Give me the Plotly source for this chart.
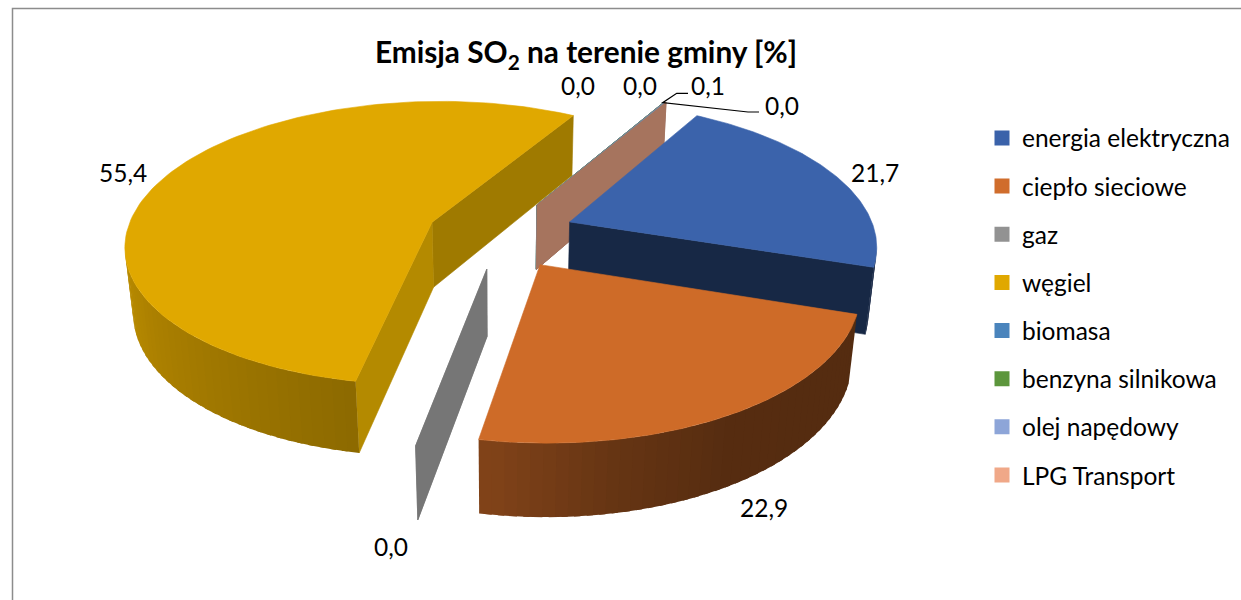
import numpy as np
import plotly.graph_objects as go

# ---------- data ----------
categories = ["energia elektryczna", "ciepło sieciowe", "gaz", "węgiel", "biomasa",
              "benzyna silnikowa", "olej napędowy", "LPG Transport"]
values = [21.7, 22.9, 0.0, 55.4, 0.0, 0.0, 0.1, 0.0]

# ---------- style ----------
legend_colors = ["#3A62AA", "#D06D2C", "#929292", "#E0A800", "#4A84BC", "#5C963C", "#8DA5D8", "#F0A888"]
top_colors = ["#3B63AB", "#CE6B28", "#929292", "#E0A800", "#4A84BC", "#5C963C", "#8DA5D8", "#F0A888"]
end_wall_colors = ["#172845", "#552C10", "#767676", "#9F7A00", "#4A7090", "#5C8050", "#7A8AA8", "#A6745E"]
start_wall_colors = ["#172845", "#7E4219", "#767676", "#B48A00", "#4A7090", "#5C8050", "#7A8AA8", "#A6745E"]
label_pos = [(875, 172), (764, 507), (391, 546), (123, 172), (578, 85), (640, 85), (708, 85), (782, 105)]
FONT = "Lato"

# projection of the exploded 3-D pie
FIRST_ANGLE = 30.2
EXPLODE = 0.243
CX, CY, RX, RY, DEPTH = 501, 234, 306, 142, 67
PERSP, PERSP_Z = 0.148, 0.022
SHADE_ANG = [100, 150, 170, 188, 230, 270, 300, 400]
SHADE_VAL = [0.41, 0.42, 0.50, 0.62, 0.75, 0.87, 0.90, 0.90]


def project(X, Y, Z=0.0):
    s = 1.0 / (1.0 - PERSP * Y + PERSP_Z * Z)
    return CX + RX * X * s, CY + (RY * Y + DEPTH * Z) * s


def direction(deg):
    a = np.radians(deg)
    return np.sin(a), -np.cos(a)


def shade(hex_color, f):
    r, g, b = (int(hex_color[i:i + 2], 16) for i in (1, 3, 5))
    return f"rgb({int(r * f)},{int(g * f)},{int(b * f)})"


def poly(points, color, edge=0.6):
    xs, ys = zip(*points)
    return go.Scatter(x=list(xs) + [xs[0]], y=list(ys) + [ys[0]], mode="lines", fill="toself",
                      fillcolor=color, line=dict(color=color, width=edge),
                      hoverinfo="skip", showlegend=False)


def wall(A, B, color, edge=0.6):
    return poly([project(*A), project(*B), project(*B, 1.0), project(*A, 1.0)], color, edge)


total = sum(values)
spans = [v / total * 360 for v in values]
starts = [FIRST_ANGLE + sum(spans[:i]) for i in range(len(values))]
CAM = (0.0, 1.0 / PERSP)

fig = go.Figure()


def draw_slice(i):
    a0, a1 = starts[i], starts[i] + spans[i]
    ex, ey = direction((a0 + a1) / 2)
    ax, ay = ex * EXPLODE, ey * EXPLODE
    d0, d1 = direction(a0), direction(a1)
    flat = spans[i] < 1.0
    t1 = (np.cos(np.radians(a1)), np.sin(np.radians(a1)))
    t0 = (-np.cos(np.radians(a0)), -np.sin(np.radians(a0)))
    to_cam = (CAM[0] - ax, CAM[1] - ay)
    if flat or t1[0] * to_cam[0] + t1[1] * to_cam[1] > 0:
        fig.add_trace(wall((ax, ay), (ax + d1[0], ay + d1[1]), end_wall_colors[i]))
    if flat or t0[0] * to_cam[0] + t0[1] * to_cam[1] > 0:
        fig.add_trace(wall((ax, ay), (ax + d0[0], ay + d0[1]), start_wall_colors[i]))
    if flat:
        return
    n = max(2, int(spans[i] / 2.0))
    grid = np.linspace(a0, a1, n + 1)
    step = grid[1] - grid[0]
    for g0, g1 in zip(grid[:-1], grid[1:]):
        m = (g0 + g1) / 2
        nx, ny = direction(m)
        px, py = ax + nx, ay + ny
        if nx * (CAM[0] - px) + ny * (CAM[1] - py) <= 0:
            continue
        # segments overlap so no seams show
        g_end = min(g1 + step * 0.5, a1)
        p0, p1 = direction(g0), direction(g_end)
        fig.add_trace(wall((ax + p0[0], ay + p0[1]), (ax + p1[0], ay + p1[1]),
                           shade(top_colors[i], float(np.interp(m, SHADE_ANG, SHADE_VAL))), 0))
    rim = [project(ax + direction(g)[0], ay + direction(g)[1]) for g in np.linspace(a0, a1, 120)]
    fig.add_trace(poly([project(ax, ay)] + rim, top_colors[i]))


for idx in [4, 5, 6, 7, 3, 2, 0, 1]:
    draw_slice(idx)

# legend entries
for name, color in zip(categories, legend_colors):
    fig.add_trace(go.Scatter(x=[None], y=[None], mode="markers", name=name, legendgroup=name,
                             marker=dict(symbol="square", size=15, color=color)))

# data labels
for v, (lx, ly) in zip(values, label_pos):
    fig.add_annotation(x=lx, y=ly, xref="x", yref="y", text=f"{v:.1f}".replace(".", ","),
                       showarrow=False, font=dict(family=FONT, size=24.5, color="#000000"))

fig.update_layout(
    width=1241, height=600, margin=dict(l=0, r=0, t=0, b=0),
    paper_bgcolor="#FFFFFF", plot_bgcolor="#FFFFFF",
    font=dict(family=FONT, size=24.5, color="#000000"),
    title=dict(text="<b>Emisja SO<sub>2</sub> na terenie gminy [%]</b>", x=586 / 1241, xanchor="center",
               y=1 - 53 / 600, yanchor="middle", font=dict(family=FONT, size=29.8, color="#000000")),
    xaxis=dict(range=[0, 1241], visible=False, fixedrange=True),
    yaxis=dict(range=[600, 0], visible=False, fixedrange=True),
    legend=dict(x=982 / 1241, xanchor="left", y=1 - 115.5 / 600, yanchor="top", tracegroupgap=13.3,
                font=dict(family=FONT, size=24.5, color="#000000"), bgcolor="rgba(0,0,0,0)",
                itemclick=False, itemdoubleclick=False),
    shapes=[
        dict(type="path", path="M 12.5 600 L 12.5 8.5 L 1241 8.5", xref="x", yref="y",
             line=dict(color="#8C8C8C", width=1.5)),
        dict(type="path", path="M 688 93.3 L 676.7 93.3 L 662.7 102.7 L 748 112 L 759 112", xref="x", yref="y",
             line=dict(color="#000000", width=1.2)),
    ],
)

fig.write_html("out.html", config={"displayModeBar": False},
               post_script="document.body.style.margin='0';document.body.style.overflow='hidden';")
